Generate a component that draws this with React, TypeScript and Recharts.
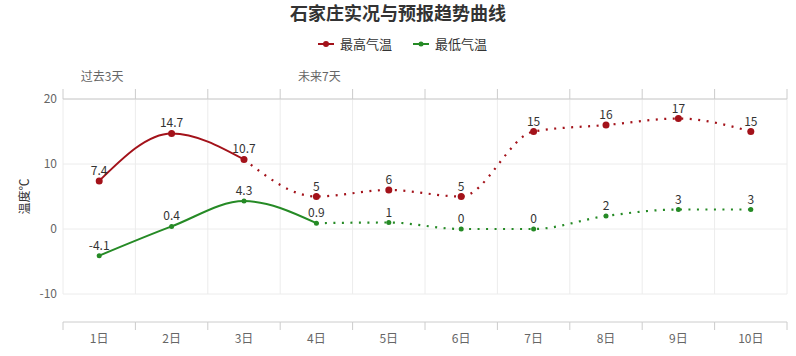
import { LineChart, Line, XAxis, YAxis, CartesianGrid, LabelList } from 'recharts';

const days = ['1日', '2日', '3日', '4日', '5日', '6日', '7日', '8日', '9日', '10日'];
const periodLabels = ['过去3天', '', '', '未来7天', '', '', '', '', '', ''];
const highTemps = [7.4, 14.7, 10.7, 5, 6, 5, 15, 16, 17, 15];
const lowTemps = [-4.1, 0.4, 4.3, 0.9, 1, 0, 0, 2, 3, 3];
// last index of the observed (solid) part of each series
const highLastObserved = 2;
const lowLastObserved = 3;
const yTicks = [-10, 0, 10, 20];

const HIGH_COLOR = '#a3121a';
const LOW_COLOR = '#258a25';
const FONT = '"Noto Sans CJK SC", "Microsoft YaHei", sans-serif';

const rows = days.map((day, i) => ({
  day,
  high: highTemps[i],
  low: lowTemps[i],
  highPast: i <= highLastObserved ? highTemps[i] : null,
  highFuture: i >= highLastObserved ? highTemps[i] : null,
  lowPast: i <= lowLastObserved ? lowTemps[i] : null,
  lowFuture: i >= lowLastObserved ? lowTemps[i] : null,
}));

function DayTick(props: any) {
  const { x, y, payload, index } = props;
  const half = payload.offset || 36.2;
  const ly = y + 28;
  const last = index === days.length - 1;
  return (
    <g>
      <line x1={x - half} x2={x + half} y1={ly} y2={ly} stroke="#ccc" />
      <line x1={x - half} x2={x - half} y1={ly} y2={ly + 8} stroke="#ccc" />
      {last && <line x1={x + half} x2={x + half} y1={ly} y2={ly + 8} stroke="#ccc" />}
      <text x={x} y={ly + 15} textAnchor="middle" dominantBaseline="central" fill="#666" fontSize={12} fontFamily={FONT}>
        {payload.value}
      </text>
    </g>
  );
}

function PeriodTick(props: any) {
  const { x, y, payload, index } = props;
  const half = payload.offset || 36.2;
  const last = index === days.length - 1;
  return (
    <g>
      <line x1={x - half} x2={x - half} y1={y} y2={y - 10} stroke="#ccc" />
      {last && <line x1={x + half} x2={x + half} y1={y} y2={y - 10} stroke="#ccc" />}
      <text x={x + 3} y={y - 24} textAnchor="middle" dominantBaseline="central" fill="#666" fontSize={12} fontFamily={FONT}>
        {periodLabels[index]}
      </text>
    </g>
  );
}

function LegendItem({ color, label, r }: { color: string; label: string; r: number }) {
  return (
    <span style={{ display: 'inline-flex', alignItems: 'center', margin: '0 10px' }}>
      <svg width={18} height={10} style={{ marginRight: 5 }}>
        <line x1={1} x2={17} y1={5} y2={5} stroke={color} strokeWidth={2} />
        <circle cx={9} cy={5} r={r} fill={color} />
      </svg>
      <span style={{ fontSize: 13, color: '#333' }}>{label}</span>
    </span>
  );
}

export default function App() {
  return (
    <div style={{ position: 'absolute', left: 0, top: 0, width: 796, height: 356, background: '#fff', fontFamily: FONT }}>
      <div style={{ position: 'absolute', top: -1, left: 0, width: 796, textAlign: 'center', fontSize: 18, fontWeight: 'bold', color: '#333' }}>
        石家庄实况与预报趋势曲线
      </div>
      <div style={{ position: 'absolute', top: 34, left: 0, width: 796, display: 'flex', justifyContent: 'center', paddingLeft: 4 }}>
        <LegendItem color={HIGH_COLOR} label="最高气温" r={3} />
        <LegendItem color={LOW_COLOR} label="最低气温" r={2.5} />
      </div>
      <LineChart width={796} height={356} data={rows} margin={{ top: 60, right: 9, bottom: 0, left: 0 }}>
        <CartesianGrid
          stroke="#ececec"
          verticalCoordinatesGenerator={({ offset }: any) =>
            Array.from({ length: days.length + 1 }, (_, i) => offset.left + (i * offset.width) / days.length)
          }
        />
        <XAxis
          dataKey="day"
          scale="band"
          height={62}
          tickSize={0}
          tickMargin={0}
          axisLine={false}
          tickLine={false}
          interval={0}
          tick={<DayTick />}
        />
        <XAxis
          xAxisId="top"
          dataKey="day"
          scale="band"
          orientation="top"
          height={39}
          tickSize={0}
          tickMargin={0}
          axisLine={{ stroke: '#ccc' }}
          tickLine={false}
          interval={0}
          tick={<PeriodTick />}
        />
        <YAxis
          width={63}
          domain={[-10, 20]}
          ticks={yTicks}
          axisLine={false}
          tickLine={false}
          tickSize={0}
          tickMargin={6}
          tick={{ fill: '#666', fontSize: 12, fontFamily: FONT }}
          label={{
            content: ({ viewBox }: any) => (
              <text
                x={viewBox.x + 23}
                y={viewBox.y + viewBox.height / 2}
                textAnchor="middle"
                dominantBaseline="central"
                fill="#333"
                fontSize={12}
                fontFamily={FONT}
                transform={`rotate(-90 ${viewBox.x + 23} ${viewBox.y + viewBox.height / 2})`}
              >
                温度℃
              </text>
            ),
          }}
        />
        <Line dataKey="highPast" type="monotone" stroke={HIGH_COLOR} strokeWidth={2} dot={false} isAnimationActive={false} />
        <Line dataKey="highFuture" type="monotone" stroke={HIGH_COLOR} strokeWidth={2.2} strokeDasharray="2 6.5" dot={false} isAnimationActive={false} />
        <Line dataKey="lowPast" type="monotone" stroke={LOW_COLOR} strokeWidth={2} dot={false} isAnimationActive={false} />
        <Line dataKey="lowFuture" type="monotone" stroke={LOW_COLOR} strokeWidth={2.2} strokeDasharray="2 6.5" dot={false} isAnimationActive={false} />
        <Line dataKey="high" stroke="none" dot={{ r: 3.5, fill: HIGH_COLOR, stroke: HIGH_COLOR, strokeWidth: 0 }} isAnimationActive={false}>
          <LabelList dataKey="high" position="top" offset={6} fill="#333" fontSize={12} fontFamily={FONT} />
        </Line>
        <Line dataKey="low" stroke="none" dot={{ r: 2.5, fill: LOW_COLOR, stroke: LOW_COLOR, strokeWidth: 0 }} isAnimationActive={false}>
          <LabelList dataKey="low" position="top" offset={6} fill="#333" fontSize={12} fontFamily={FONT} />
        </Line>
      </LineChart>
    </div>
  );
}
